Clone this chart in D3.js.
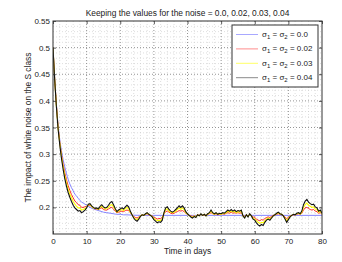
<!DOCTYPE html>
<html><head><meta charset="utf-8">
<script src="https://cdn.jsdelivr.net/npm/d3@7"></script>
<style>
html,body{margin:0;padding:0;background:#fff;}
text{font-family:"Liberation Sans",Arial,Helvetica,sans-serif;fill:#222;}
</style></head>
<body>
<svg id="chart" width="342" height="262"></svg>
<script>
// ---- data ----
const title = "Keeping the values for the noise = 0.0, 0.02, 0.03, 0.04";
const xLabel = "Time in days";
const yLabel = "The impact of white noise on the S class";
const xTicks = [0,10,20,30,40,50,60,70,80];
const yTicks = [0.2,0.25,0.3,0.35,0.4,0.45,0.5,0.55];
const yTickLabels = ["0.2","0.25","0.3","0.35","0.4","0.45","0.5","0.55"];
const legendLabels = ["0.0","0.02","0.03","0.04"];

// deterministic (sigma = 0)
const blueDays = [0,0.5,1,1.5,2,2.5,3,3.5,4,4.5,5,5.5,6,6.5,7,7.5,8,8.5,9,9.5,10,11,12,13,14,15,16,17,18,19,20,21,22,24,26,30,40,50,60,70,80];
const sigma0 = [.500,.442,.395,.356,.328,.307,.290,.276,.264,.253,.244,.237,.231,.225,.221,.217,.213,.210,.208,.206,.204,.200,.197,.195,.193,.191,.190,.189,.188,.187,.187,.186,.186,.1853,.185,.185,.185,.185,.185,.185,.185];

// noisy runs sampled every half day, t = 0 .. 80
const noiseDays = d3.range(0, 80.001, 0.5);
const sigma002 = [.500,.441,.393,.352,.323,.300,.281,.265,.252,.241,.232,.224,.218,.212,.209,.205,.204,.200,.200,.201,
.202,.204,.204,.201,.199,.197,.197,.196,.198,.199,.196,.195,.195,.197,.199,.200,.197,.193,.190,.191,
.192,.193,.192,.194,.195,.194,.190,.186,.183,.181,.180,.182,.184,.186,.185,.187,.188,.186,.185,.184,
.181,.180,.178,.179,.179,.181,.188,.192,.193,.191,.189,.188,.189,.191,.192,.194,.193,.194,.192,.189,
.187,.185,.184,.183,.184,.183,.186,.185,.187,.185,.186,.185,.187,.188,.190,.188,.187,.188,.186,.187,
.187,.188,.187,.189,.190,.189,.191,.189,.190,.189,.190,.189,.190,.185,.183,.186,.184,.187,.185,.182,
.181,.178,.176,.175,.177,.176,.179,.181,.182,.181,.183,.185,.186,.187,.188,.187,.186,.185,.182,.179,
.181,.184,.185,.186,.186,.187,.188,.187,.189,.195,.199,.200,.198,.196,.195,.196,.193,.192,.189,.190,.187];
const sigma003 = [.500,.440,.391,.350,.321,.297,.277,.260,.246,.234,.225,.218,.211,.206,.202,.199,.199,.195,.196,.198,
.200,.205,.205,.202,.199,.198,.198,.196,.200,.202,.199,.197,.198,.200,.204,.205,.201,.196,.191,.193,
.195,.196,.194,.197,.200,.197,.191,.186,.181,.178,.177,.180,.184,.186,.185,.187,.189,.187,.185,.183,
.179,.177,.175,.176,.175,.178,.189,.196,.197,.193,.191,.190,.191,.193,.196,.199,.196,.199,.196,.190,
.187,.185,.183,.181,.184,.182,.186,.184,.187,.185,.187,.184,.187,.189,.193,.189,.187,.189,.187,.188,
.187,.189,.188,.190,.193,.191,.193,.191,.193,.190,.192,.191,.193,.184,.181,.186,.183,.187,.184,.180,
.178,.175,.172,.170,.172,.171,.175,.178,.180,.178,.181,.184,.186,.188,.190,.187,.187,.184,.180,.175,
.179,.183,.185,.187,.186,.188,.189,.187,.191,.200,.205,.208,.204,.202,.200,.201,.197,.196,.191,.193,.188];
const sigma004 = [.500,.440,.390,.348,.318,.293,.272,.254,.240,.228,.219,.211,.204,.199,.196,.193,.194,.190,.192,.195,
.199,.206,.207,.203,.200,.198,.199,.197,.202,.205,.201,.199,.200,.204,.209,.211,.205,.198,.192,.195,
.197,.199,.197,.201,.204,.201,.193,.186,.180,.176,.174,.178,.183,.186,.185,.188,.190,.187,.185,.182,
.177,.174,.171,.173,.172,.176,.190,.199,.201,.196,.193,.191,.193,.196,.199,.203,.200,.203,.199,.192,
.188,.185,.182,.180,.183,.181,.186,.184,.188,.185,.187,.184,.188,.190,.195,.190,.188,.190,.187,.189,
.188,.190,.189,.192,.195,.193,.196,.193,.195,.192,.194,.193,.195,.184,.180,.186,.182,.188,.184,.178,
.176,.171,.167,.165,.168,.166,.172,.176,.178,.176,.180,.184,.186,.189,.191,.188,.187,.184,.178,.172,
.177,.182,.185,.187,.186,.189,.190,.188,.193,.205,.212,.215,.210,.207,.205,.206,.201,.199,.193,.195,.189];

// ---- layout ----
const svg = d3.select("#chart");
const L = 53, R = 322, T = 21, B = 234;
const FS = "8px", FL = "8.4px";
const x = d3.scaleLinear().domain([0,80]).range([L,R]);
const y = d3.scaleLinear().domain([0.15,0.55]).range([B,T]);

svg.append("rect").attr("width",342).attr("height",262).attr("fill","#fff");

// grid - minor
const gMinor = svg.append("g");
gMinor.selectAll("line.vx").data(d3.range(2,80,2).filter(v=>v%10!==0)).join("line")
  .attr("x1",d=>x(d)).attr("x2",d=>x(d)).attr("y1",T).attr("y2",B)
  .attr("stroke","#c8c8c8").attr("stroke-width",0.6).attr("stroke-dasharray","1,2");
gMinor.selectAll("line.hy").data(d3.range(16,55,1).map(v=>v/100).filter(v=>Math.round(v*100)%5!==0)).join("line")
  .attr("x1",L).attr("x2",R).attr("y1",d=>y(d)).attr("y2",d=>y(d))
  .attr("stroke","#c8c8c8").attr("stroke-width",0.6).attr("stroke-dasharray","1,2");
// grid - major
const gMajor = svg.append("g");
gMajor.selectAll("line.mx").data(xTicks.slice(1,-1)).join("line")
  .attr("x1",d=>x(d)).attr("x2",d=>x(d)).attr("y1",T).attr("y2",B)
  .attr("stroke","#666").attr("stroke-width",0.7).attr("stroke-dasharray","1,2");
gMajor.selectAll("line.my").data(yTicks.slice(0,-1)).join("line")
  .attr("x1",L).attr("x2",R).attr("y1",d=>y(d)).attr("y2",d=>y(d))
  .attr("stroke","#666").attr("stroke-width",0.7).attr("stroke-dasharray","1,2");

// lines
svg.append("clipPath").attr("id","clip").append("rect")
  .attr("x",L).attr("y",T).attr("width",R-L).attr("height",B-T);
const gl = svg.append("g").attr("clip-path","url(#clip)");
const lineB = d3.line().x((d,i)=>x(blueDays[i])).y(d=>y(d)).curve(d3.curveMonotoneX);
const lineN = d3.line().x((d,i)=>x(noiseDays[i])).y(d=>y(d));
gl.append("path").attr("d",lineB(sigma0)).attr("fill","none").attr("stroke","#8585ff").attr("stroke-width",1);
gl.append("path").attr("d",lineN(sigma002)).attr("fill","none").attr("stroke","#ff2a2a").attr("stroke-width",1);
gl.append("path").attr("d",lineN(sigma003)).attr("fill","none").attr("stroke","#ffff00").attr("stroke-width",1.1);
gl.append("path").attr("d",lineN(sigma004)).attr("fill","none").attr("stroke","#111").attr("stroke-width",1.1);

// axes
const xAxisB = d3.axisBottom(x).tickValues(xTicks).tickSize(-3).tickPadding(4).tickFormat(d3.format("d"));
const xAxisT = d3.axisTop(x).tickValues(xTicks).tickSize(-3).tickFormat("");
const yAxisL = d3.axisLeft(y).tickValues(yTicks).tickSize(-3).tickPadding(3).tickFormat((d,i)=>yTickLabels[i]);
const yAxisR = d3.axisRight(y).tickValues(yTicks).tickSize(-3).tickFormat("");
function style(g){
  g.select(".domain").remove();
  g.selectAll(".tick line").attr("stroke","#333").attr("stroke-width",0.8);
  g.selectAll(".tick text").attr("font-size",FS).attr("fill","#222")
   .attr("font-family","'Liberation Sans',Arial,sans-serif");
}
svg.append("g").attr("transform",`translate(0,${B})`).call(xAxisB).call(style);
svg.append("g").attr("transform",`translate(0,${T})`).call(xAxisT).call(style);
svg.append("g").attr("transform",`translate(${L},0)`).call(yAxisL).call(style);
svg.append("g").attr("transform",`translate(${R},0)`).call(yAxisR).call(style);
svg.append("rect").attr("x",L).attr("y",T).attr("width",R-L).attr("height",B-T)
  .attr("fill","none").attr("stroke","#333").attr("stroke-width",1);

// titles
svg.append("text").attr("x",187.5).attr("y",16).attr("text-anchor","middle")
  .attr("font-size",FL).text(title);
svg.append("text").attr("x",187.5).attr("y",254).attr("text-anchor","middle")
  .attr("font-size",FL).text(xLabel);
svg.append("text").attr("transform",`translate(31,127.5) rotate(-90)`).attr("text-anchor","middle")
  .attr("font-size",FL).text(yLabel);

// legend
const legColors = ["#a8a8ff","#ff8c8c","#ffff66","#8a8a8a"];
const lg = svg.append("g");
lg.append("rect").attr("x",232).attr("y",25).attr("width",86).attr("height",62)
  .attr("fill","#fff").attr("stroke","#333").attr("stroke-width",1);
legendLabels.forEach((lab,i)=>{
  const yy = 34.5 + i*14.4;
  lg.append("line").attr("x1",236).attr("x2",258).attr("y1",yy).attr("y2",yy)
    .attr("stroke",legColors[i]).attr("stroke-width",1);
  const t = lg.append("text").attr("x",262).attr("y",yy+2.5).attr("font-size",FS);
  t.append("tspan").text("σ");
  t.append("tspan").attr("font-size","6px").attr("dy",2).text("1");
  t.append("tspan").attr("dy",-2).text(" = σ");
  t.append("tspan").attr("font-size","6px").attr("dy",2).text("2");
  t.append("tspan").attr("dy",-2).text(" = " + lab);
});
</script>
</body></html>
